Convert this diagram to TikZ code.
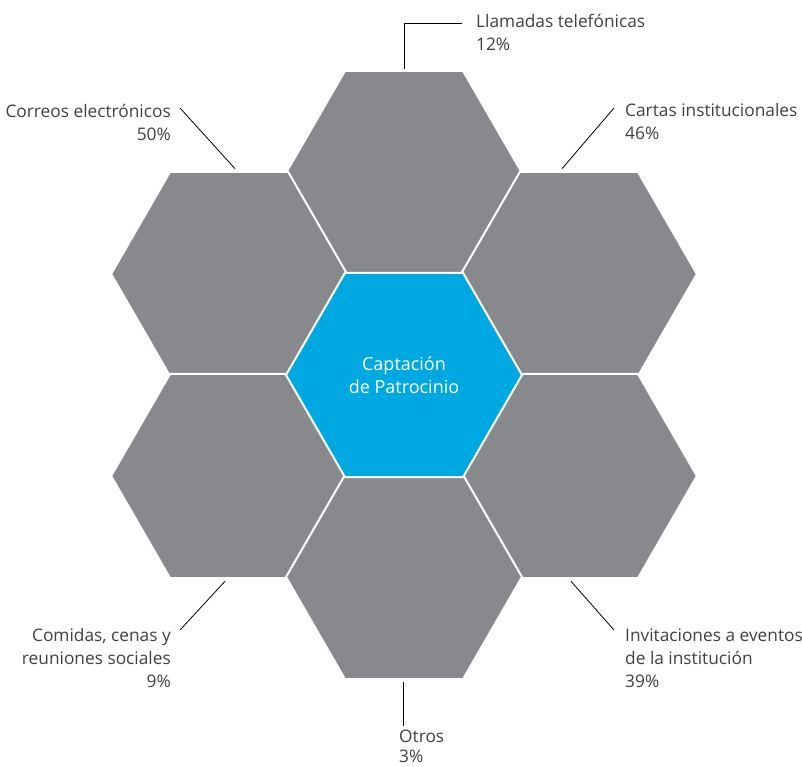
\documentclass[tikz,border=0pt]{standalone}
\usepackage{fontspec}
\setmainfont{Open Sans}
\usetikzlibrary{shapes.geometric}
\definecolor{hexgray}{RGB}{135,137,141}
\definecolor{hexblue}{RGB}{0,168,226}
\definecolor{labeltext}{RGB}{64,64,64}
\begin{document}
\begin{tikzpicture}[x=1pt,y=-1pt,
    hexa/.style={regular polygon,regular polygon sides=6,minimum size=236pt,inner sep=0pt,outer sep=0pt,draw=white,line width=2pt,fill=hexgray},
    lbl/.style={inner sep=0pt,text=labeltext,font=\fontsize{17.3}{23}\selectfont},
    leader/.style={draw=black,line width=0.8pt}]
    \useasboundingbox (0,0) rectangle (802,767);
    \node[hexa] (top) at (404,173) {};
    \node[hexa] (upleft) at (229.1,274) {};
    \node[hexa] (upright) at (578.9,274) {};
    \node[hexa] (lowleft) at (229.1,476) {};
    \node[hexa] (lowright) at (578.9,476) {};
    \node[hexa] (bottom) at (404,577) {};
    \node[hexa,fill=hexblue,text=white,align=center,font=\fontsize{18}{23}\selectfont] (center) at (404,375) {Captación\\de Patrocinio};
    \node[lbl,anchor=west,align=left] (llamadas) at (476,32) {Llamadas telefónicas\\12\%};
    \node[lbl,anchor=east,align=right] (correos) at (171,122) {Correos electrónicos\\50\%};
    \node[lbl,anchor=west,align=left] (cartas) at (625,122) {Cartas institucionales\\46\%};
    \node[lbl,anchor=east,align=right] (comidas) at (171,658) {Comidas, cenas y\\reuniones sociales\\9\%};
    \node[lbl,anchor=west,align=left] (invitaciones) at (625,658) {Invitaciones a eventos\\de la institución\\39\%};
    \node[lbl,anchor=south west,align=left,font=\fontsize{17.3}{20}\selectfont] (otros) at (399,763) {Otros\\3\%};
    \coordinate (llamadas-end) at (462,23);
    \coordinate (correos-end) at (180,108);
    \coordinate (cartas-end) at (614,108);
    \coordinate (comidas-end) at (180,630);
    \coordinate (invitaciones-end) at (614,630);
    \coordinate (otros-end) at (403,726);
    \draw[leader] ([yshift=2pt]top.north) |- (llamadas-end);
    \draw[leader] ([xshift=6pt,yshift=3pt]upleft.north) -- (correos-end);
    \draw[leader] ([xshift=-17pt,yshift=3pt]upright.north) -- (cartas-end);
    \draw[leader] ([xshift=-4pt,yshift=-3pt]lowleft.south) -- (comidas-end);
    \draw[leader] ([xshift=-8pt,yshift=-3pt]lowright.south) -- (invitaciones-end);
    \draw[leader] ([xshift=-1pt,yshift=-3pt]bottom.south) -- (otros-end);
  \end{tikzpicture}
\end{document}
